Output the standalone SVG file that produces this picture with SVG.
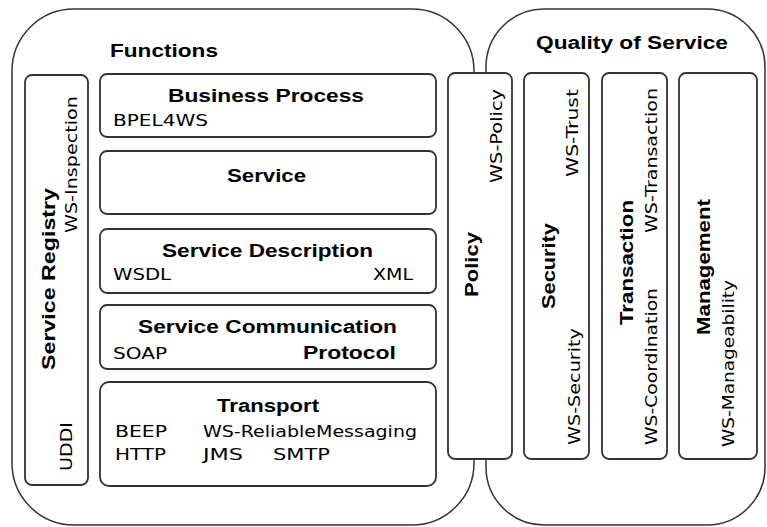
<svg xmlns="http://www.w3.org/2000/svg" width="767" height="527" viewBox="0 0 767 527">
<style>
.outer{fill:#fff;stroke:#333;stroke-width:1.5}
.box{fill:#fff;stroke:#333;stroke-width:1.8}
.t{font-family:"Liberation Sans",Arial,sans-serif;fill:#000}
.b{font-weight:bold;font-size:18px}
.n{font-family:"DejaVu Sans","Liberation Sans",sans-serif;font-size:15px}
</style>
<rect width="767" height="527" fill="#fff"/>
<g id="functions-area">
<rect class="outer" x="12" y="9" width="462" height="516" rx="62" ry="62"/>
<text class="t b" x="110" y="57" textLength="108" lengthAdjust="spacingAndGlyphs">Functions</text>
</g>
<g id="qos-area">
<rect class="outer" x="486" y="9" width="279" height="516" rx="58" ry="58"/>
<text class="t b" x="536" y="49" textLength="192" lengthAdjust="spacingAndGlyphs">Quality of Service</text>
</g>
<g id="connectors"></g>
<g id="service-registry">
<rect class="box" x="25" y="75" width="63" height="410" rx="7"/>
<text class="t b" transform="translate(55,370) rotate(-90)" textLength="182" lengthAdjust="spacingAndGlyphs">Service Registry</text>
<text class="t n" transform="translate(77,233) rotate(-90)" textLength="137" lengthAdjust="spacingAndGlyphs">WS-Inspection</text>
<text class="t n" transform="translate(72,471) rotate(-90)" textLength="49" lengthAdjust="spacingAndGlyphs">UDDI</text>
</g>
<g id="business-process">
<rect class="box" x="100" y="74" width="336" height="63" rx="7"/>
<text class="t b" x="168" y="102" textLength="196" lengthAdjust="spacingAndGlyphs">Business Process</text>
<text class="t n" x="113" y="126" textLength="95" lengthAdjust="spacingAndGlyphs">BPEL4WS</text>
</g>
<g id="service">
<rect class="box" x="100" y="151" width="336" height="63" rx="7"/>
<text class="t b" x="227" y="182" textLength="79" lengthAdjust="spacingAndGlyphs">Service</text>
</g>
<g id="service-description">
<rect class="box" x="100" y="229" width="336" height="64" rx="7"/>
<text class="t b" x="162" y="257" textLength="211" lengthAdjust="spacingAndGlyphs">Service Description</text>
<text class="t n" x="113" y="280" textLength="58" lengthAdjust="spacingAndGlyphs">WSDL</text>
<text class="t n" x="373" y="280" textLength="40" lengthAdjust="spacingAndGlyphs">XML</text>
</g>
<g id="service-communication">
<rect class="box" x="100" y="305" width="336" height="64" rx="7"/>
<text class="t b" x="138" y="333" textLength="259" lengthAdjust="spacingAndGlyphs">Service Communication</text>
<text class="t n" x="113" y="359" textLength="54" lengthAdjust="spacingAndGlyphs">SOAP</text>
<text class="t b" x="303" y="359" textLength="93" lengthAdjust="spacingAndGlyphs">Protocol</text>
</g>
<g id="transport">
<rect class="box" x="100" y="382" width="336" height="104" rx="9"/>
<text class="t b" x="217" y="412" textLength="102" lengthAdjust="spacingAndGlyphs">Transport</text>
<text class="t n" x="115" y="437" textLength="52" lengthAdjust="spacingAndGlyphs">BEEP</text>
<text class="t n" x="203" y="437" textLength="214" lengthAdjust="spacingAndGlyphs">WS-ReliableMessaging</text>
<text class="t n" x="115" y="460" textLength="51" lengthAdjust="spacingAndGlyphs">HTTP</text>
<text class="t n" x="203" y="460" textLength="40" lengthAdjust="spacingAndGlyphs">JMS</text>
<text class="t n" x="273" y="460" textLength="57" lengthAdjust="spacingAndGlyphs">SMTP</text>
</g>
<g id="policy">
<rect class="box" x="448" y="73" width="64" height="386" rx="7"/>
<text class="t b" transform="translate(478,297) rotate(-90)" textLength="65" lengthAdjust="spacingAndGlyphs">Policy</text>
<text class="t n" transform="translate(502,183) rotate(-90)" textLength="94" lengthAdjust="spacingAndGlyphs">WS-Policy</text>
</g>
<g id="security">
<rect class="box" x="524" y="73" width="65" height="386" rx="7"/>
<text class="t b" transform="translate(555,309) rotate(-90)" textLength="86" lengthAdjust="spacingAndGlyphs">Security</text>
<text class="t n" transform="translate(578,177) rotate(-90)" textLength="88" lengthAdjust="spacingAndGlyphs">WS-Trust</text>
<text class="t n" transform="translate(580,445) rotate(-90)" textLength="117" lengthAdjust="spacingAndGlyphs">WS-Security</text>
</g>
<g id="transaction">
<rect class="box" x="602" y="73" width="65" height="386" rx="7"/>
<text class="t b" transform="translate(633,325) rotate(-90)" textLength="125" lengthAdjust="spacingAndGlyphs">Transaction</text>
<text class="t n" transform="translate(657,233) rotate(-90)" textLength="145" lengthAdjust="spacingAndGlyphs">WS-Transaction</text>
<text class="t n" transform="translate(657,445) rotate(-90)" textLength="157" lengthAdjust="spacingAndGlyphs">WS-Coordination</text>
</g>
<g id="management">
<rect class="box" x="679" y="73" width="78" height="386" rx="7"/>
<text class="t b" transform="translate(710,335) rotate(-90)" textLength="136" lengthAdjust="spacingAndGlyphs">Management</text>
<text class="t n" transform="translate(734,447) rotate(-90)" textLength="167" lengthAdjust="spacingAndGlyphs">WS-Manageability</text>
</g>
</svg>
